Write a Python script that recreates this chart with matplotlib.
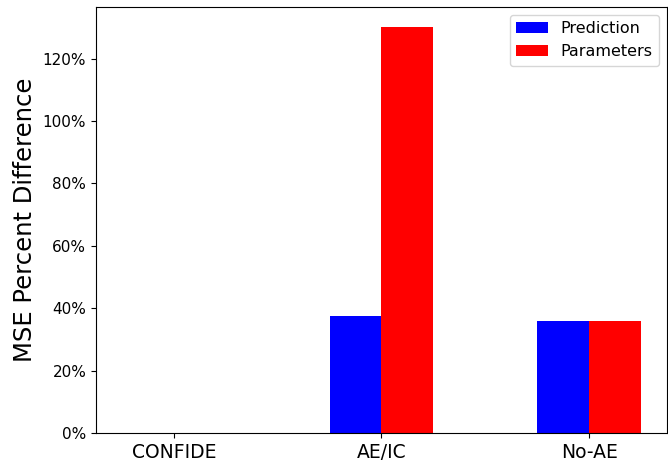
import numpy as np
import matplotlib.pyplot as plt
from matplotlib.ticker import PercentFormatter, MultipleLocator

# MSE percent difference per model
models = ['CONFIDE', 'AE/IC', 'No-AE']
prediction = [0, 37.5, 36]
parameters = [0, 130, 36]

x = np.arange(len(models))
w = 0.25

fig = plt.figure(figsize=(6.68, 4.62), dpi=100)
ax = fig.add_axes([0.1437, 0.0628, 0.8548, 0.922])

ax.bar(x - w/2, prediction, w, color='blue', label='Prediction')
ax.bar(x + w/2, parameters, w, color='red', label='Parameters')

ax.set_xticks(x)
ax.set_xticklabels(models, fontsize=13.5)
ax.yaxis.set_major_locator(MultipleLocator(20))
ax.yaxis.set_major_formatter(PercentFormatter(decimals=0))
ax.tick_params(axis='y', labelsize=11)
ax.set_ylabel('MSE Percent Difference', fontsize=17.5)
ax.legend(loc='upper right', fontsize=11.5)

fig.savefig('out.png', dpi=100)
